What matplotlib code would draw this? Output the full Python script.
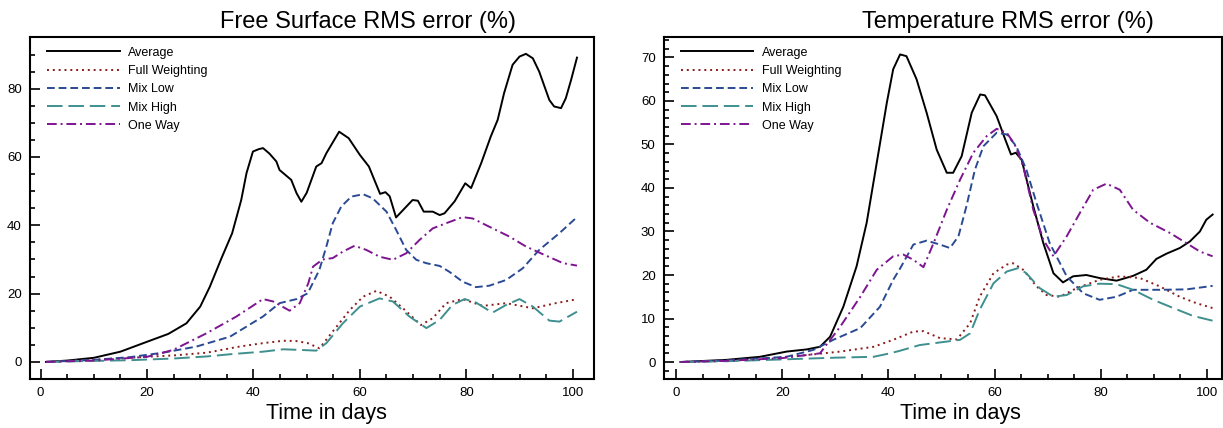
import matplotlib.pyplot as plt
from matplotlib.ticker import MultipleLocator

plt.rcParams['font.family'] = ['Liberation Sans', 'DejaVu Sans']

# ---- Free surface RMS error (%) ----
fs_avg_d = [1, 5, 10, 15, 20, 24, 27.4, 30, 31.8, 34, 36, 37.7, 38.7, 39.9, 41, 41.8, 43, 44.3,
            44.9, 47.1, 48.1, 49, 50, 51.8, 52.8, 53.7, 56.1, 57.9, 60, 61.7, 62.8, 63.8, 64.8,
            65.6, 66.8, 69.9, 70.9, 72, 73.7, 75, 75.9, 77.8, 79.8, 80.9, 82.8, 84.6, 85.9, 87.1,
            88.7, 90, 91.2, 92.5, 93.7, 95.6, 96.5, 97.8, 98.7, 99.7, 100.8]
fs_avg_v = [0, 0.4, 1.2, 3.0, 5.9, 8.2, 11.3, 16.2, 22, 30.4, 37.7, 47.4, 55.3, 61.6, 62.3, 62.6,
            61, 58.7, 56.2, 53.3, 49.4, 46.9, 49.5, 57.2, 58.2, 61.1, 67.4, 65.5, 60.6, 57.2, 53,
            49.2, 49.7, 48.5, 42.3, 47.4, 47.2, 44, 44, 43, 43.5, 47, 52.3, 50.9, 58.2, 66, 70.9,
            78.7, 87, 89.4, 90.2, 88.9, 85, 76.7, 74.8, 74.3, 77.2, 82.6, 89.1]

fs_fw_d = [1, 10, 20, 25, 31.2, 37.4, 41.8, 45.6, 48.1, 50.2, 52.4, 54.9, 58.1, 60.6, 63.1, 65.6,
           68.1, 71.5, 73.7, 76.2, 79.3, 83.1, 87.5, 92.5, 96.8, 100.3]
fs_fw_v = [0, 0.6, 1.5, 1.9, 2.7, 4.5, 5.5, 6.2, 6.1, 5.5, 4.0, 8.9, 15.2, 19.1, 20.8, 19.1,
           15.7, 10.8, 12.8, 17.2, 18.4, 16.4, 17.2, 15.7, 17.2, 18.2]

fs_low_d = [1, 10, 16.8, 23, 29.3, 35.6, 41.8, 44.9, 48.1, 50.2, 52.4, 53.7, 54.9, 56.5, 58.4,
            60.6, 62.4, 65, 66.8, 68.7, 70.6, 72.5, 75, 76.8, 79.3, 81.8, 84.3, 87.5, 90.6, 93.7,
            97.5, 100.8]
fs_low_v = [0, 0.6, 1.4, 2.7, 4.5, 7.4, 13.3, 17.2, 18.4, 20.1, 27, 33.8, 40.6, 45.5, 48.4,
            49.1, 47.9, 44, 38.7, 32.8, 29.9, 28.9, 28.1, 26.4, 23.5, 21.9, 22.3, 24, 27.4, 32.8,
            37.7, 42.4]

fs_high_d = [1, 10, 16.8, 25, 31.2, 36, 41.8, 45.6, 49, 51.8, 53.7, 56.8, 60, 63.7, 66.2, 69.3,
             72.5, 75, 77.4, 79.7, 81.8, 84.9, 87.5, 90, 92.5, 95.6, 97.5, 100.8]
fs_high_v = [0, 0.3, 0.5, 1.0, 1.6, 2.3, 3.0, 3.7, 3.5, 3.3, 5.5, 11.3, 16.2, 18.6, 17.7, 13.3,
             9.9, 12.3, 16.7, 18.4, 17.4, 14.4, 16.7, 18.4, 16.2, 12.1, 11.8, 14.7]

fs_one_d = [1, 10, 20, 24.9, 31.2, 36.8, 41.8, 43.7, 46.8, 48.7, 50.3, 51.2, 53, 54.9, 56.8, 59,
            61.2, 63.7, 66.2, 68.7, 71.2, 73.7, 76.2, 79.3, 81.2, 84.3, 88.1, 91.2, 94.3, 98.2,
            100.8]
fs_one_v = [0, 0.4, 1.5, 3.5, 8.4, 13.3, 18.4, 17.7, 15, 17.2, 23, 27.9, 30, 30.4, 32.3, 34,
            32.8, 30.8, 29.9, 31.8, 35.7, 39.1, 40.6, 42.4, 42, 39.6, 36.7, 33.8, 31.6, 28.9, 28.2]

# ---- Temperature RMS error (%) ----
t_avg_d = [0.8, 9.5, 15.8, 20.8, 24.6, 27.1, 29, 31.5, 34, 35.9, 37.8, 39.7, 40.9, 42.2, 43.4,
           45.3, 47.2, 49.1, 51, 52.2, 53.8, 55.7, 57.3, 58.2, 60.4, 62, 63.1, 64, 65.1, 67.3,
           69.2, 71.1, 72.9, 74.8, 77.3, 79.8, 83, 86.1, 88.6, 90.5, 92.4, 94.9, 96.8, 98.7,
           99.9, 101.1]
t_avg_v = [0, 0.5, 1.2, 2.4, 2.9, 3.5, 5.8, 12.7, 22, 32, 45.8, 59.6, 67.3, 70.7, 70.3, 65,
           57.3, 48.8, 43.5, 43.5, 47.3, 57.3, 61.5, 61.3, 56.5, 51.2, 47.7, 48.1, 46.5, 35.8,
           27.3, 20.4, 18.3, 19.7, 20, 19.3, 18.7, 19.8, 21.2, 23.7, 24.9, 26.2, 27.7, 30, 32.7,
           33.9]

t_fw_d = [0.8, 10, 17, 24.6, 30.9, 37.2, 40.9, 44.7, 46.6, 49.7, 52.9, 55.4, 57.2, 59.8, 62.3,
          63.5, 65.4, 67.9, 69.8, 72.3, 75.5, 79.8, 83.6, 87.4, 91.1, 94.9, 98.1, 101.1]
t_fw_v = [0, 0.3, 0.8, 1.6, 2.4, 3.5, 5.1, 7.0, 7.1, 5.5, 5.2, 8.9, 15, 20.4, 22.4, 22.7, 21.2,
          17.4, 15.4, 15, 17, 18.9, 19.7, 19.3, 17.4, 15, 13.5, 12.4]

t_low_d = [0.8, 10, 20.8, 25.9, 29.6, 34.7, 38.4, 40.9, 42.2, 44.7, 47.2, 49.7, 51.6, 53.2,
           54.7, 56.3, 57.9, 60.4, 62.3, 64.1, 66, 67.9, 70.4, 73.6, 76.7, 79.8, 83, 86.1, 91.1,
           96.2, 101.1]
t_low_v = [0, 0.4, 1.2, 2.8, 5.1, 7.8, 12.7, 18.9, 21.5, 27.0, 27.9, 27, 26.2, 28.9, 35.8,
           44.2, 49.6, 52.7, 52.3, 49.6, 44.2, 36.6, 27.3, 19.7, 15.8, 14.3, 15, 16.6, 16.6,
           16.7, 17.5]

t_high_d = [0.8, 10, 20, 30, 37.2, 40.3, 42.2, 45.9, 49.7, 53.5, 55.4, 57.2, 59.8, 62.3, 64.5,
            66, 68.5, 71.1, 73.6, 76.7, 79.8, 83, 86.1, 89.9, 93.7, 97.4, 101.1]
t_high_v = [0, 0.2, 0.6, 1.0, 1.2, 2.0, 2.6, 3.9, 4.5, 5.1, 6.6, 12, 18.1, 20.8, 21.6, 20.4,
            17, 15, 15.4, 17.4, 18, 17.9, 16.6, 14.3, 12.4, 10.6, 9.5]

t_one_d = [0.8, 10, 20, 27.1, 30.9, 34.7, 37.8, 40.9, 42.8, 44.7, 46.6, 48.5, 51, 53.5, 56,
           58.5, 60.4, 62.3, 63.8, 65.4, 67.3, 69.2, 71.1, 73.6, 76.1, 78.6, 81.1, 83.6, 86.1,
           89.3, 93, 96.2, 98.7, 101.1]
t_one_v = [0, 0.3, 0.9, 2.0, 8.1, 15, 21.2, 24.3, 24.7, 23.5, 21.8, 27.3, 35, 41.9, 48.1, 51.9,
           53.6, 52.7, 50, 45, 35, 28.1, 24.3, 28.9, 34.3, 39.6, 41, 39.6, 35, 32, 29.7, 27.3,
           25.4, 24.3]

names = ["Average", "Full Weighting", "Mix Low", "Mix High", "One Way"]
colors = ["black", "#8b1a1a", "#2b4a94", "#3f8f8f", "#7d1590"]
styles = ["-", (0, (1, 2)), (0, (4, 2)), (0, (8, 3)), (0, (5, 2, 1, 2))]

fig = plt.figure(figsize=(12.23, 4.28), dpi=100)
ax1 = fig.add_axes([0.0245, 0.1145, 0.4612, 0.798])
ax2 = fig.add_axes([0.5429, 0.1145, 0.456, 0.798])

panels = [
    (ax1, "Free Surface RMS error (%)",
     [(fs_avg_d, fs_avg_v), (fs_fw_d, fs_fw_v), (fs_low_d, fs_low_v), (fs_high_d, fs_high_v),
      (fs_one_d, fs_one_v)], (-2, 104), (-5, 95), 20, 5, 0.60, 0.525),
    (ax2, "Temperature RMS error (%)",
     [(t_avg_d, t_avg_v), (t_fw_d, t_fw_v), (t_low_d, t_low_v), (t_high_d, t_high_v),
      (t_one_d, t_one_v)], (-2.3, 102.8), (-3.9, 74.6), 10, 2, 0.617, 0.532),
]

for ax, title, series, xl, yl, ymaj, ymin, tx, lx in panels:
    for (d, v), name, c, ls in zip(series, names, colors, styles):
        ax.plot(d, v, color=c, linestyle=ls, linewidth=1.4, label=name)
    ax.set_xlim(*xl)
    ax.set_ylim(*yl)
    ax.set_title(title, fontsize=17, x=tx, pad=7)
    ax.set_xlabel("Time in days", fontsize=15.5, x=lx, labelpad=3)
    ax.xaxis.set_major_locator(MultipleLocator(20))
    ax.xaxis.set_minor_locator(MultipleLocator(5))
    ax.yaxis.set_major_locator(MultipleLocator(ymaj))
    ax.yaxis.set_minor_locator(MultipleLocator(ymin))
    ax.tick_params(which='both', direction='in', labelsize=9.5, width=1.2)
    ax.tick_params(which='major', length=7, pad=6)
    ax.tick_params(which='minor', length=3.5)
    for s in ax.spines.values():
        s.set_linewidth(1.5)
    ax.legend(loc='upper left', bbox_to_anchor=(0.026, 0.98), frameon=False, fontsize=9,
              handlelength=5.8, labelspacing=0.5, borderaxespad=0.0, handletextpad=0.7,
              borderpad=0.2)

fig.savefig("out.png", dpi=100)
